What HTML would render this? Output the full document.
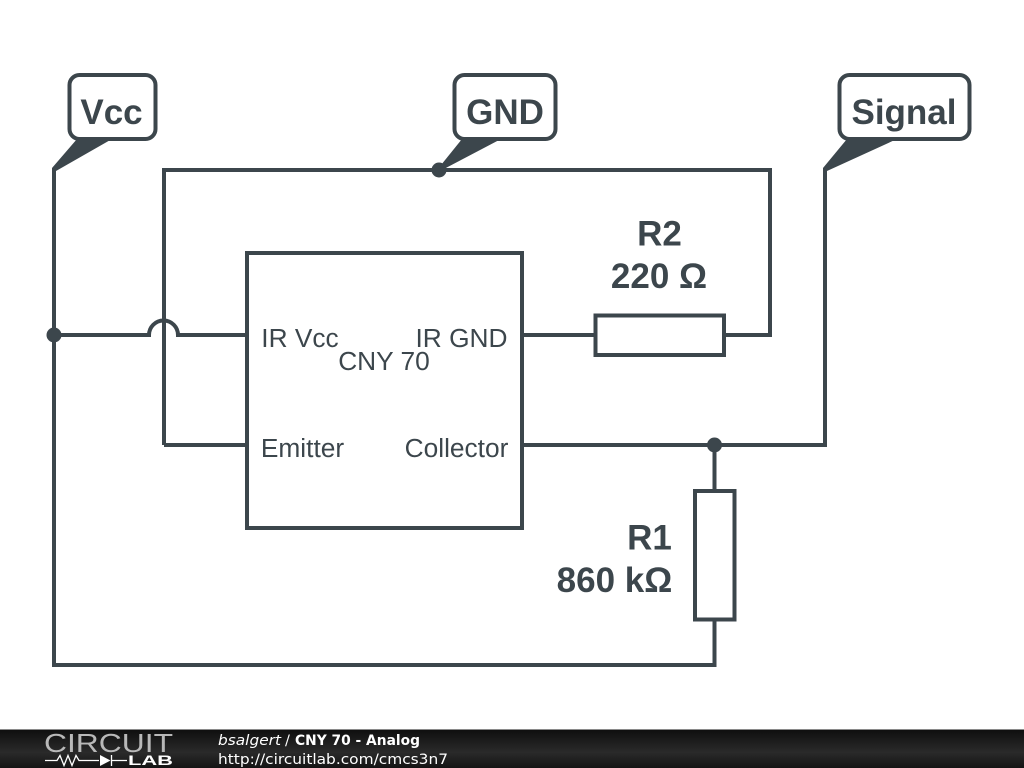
<!DOCTYPE html>
<html>
<head>
<meta charset="utf-8">
<style>
html,body{margin:0;padding:0;background:#fff;width:1024px;height:768px;overflow:hidden}
svg{display:block}
</style>
</head>
<body>
<svg width="1024" height="768" viewBox="0 0 1024 768" xmlns="http://www.w3.org/2000/svg">
<defs>
<linearGradient id="bar" x1="0" y1="0" x2="0" y2="1">
<stop offset="0" stop-color="#0e0e0e"/>
<stop offset="0.6" stop-color="#2a2a2a"/>
<stop offset="1" stop-color="#141414"/>
</linearGradient>
</defs>
<rect width="1024" height="768" fill="#fff"/>
<g fill="none" stroke="#3c464c" stroke-width="4" stroke-linejoin="miter">
<!-- Vcc wire -->
<path d="M54 168V665H714.500V620"/>
<path d="M54 335H149A14.500 14.500 0 0 1 178 335H247"/>
<!-- GND loop -->
<path d="M164 445V170H770V335H724"/>
<path d="M164 445H247"/>
<!-- IC -->
<rect x="247" y="253" width="275" height="275"/>
<!-- R2 -->
<path d="M522 335H595"/>
<rect x="595.500" y="315.500" width="128.500" height="39.500"/>
<!-- Collector -->
<path d="M522 445H825V168"/>
<path d="M714.500 445V490"/>
<!-- R1 -->
<rect x="695" y="491" width="39.500" height="128.500"/>
<!-- Label boxes -->
<rect x="69.500" y="75" width="86" height="64" rx="10"/>
<rect x="454.500" y="75" width="101" height="64" rx="10"/>
<rect x="839.500" y="75" width="130" height="64" rx="10"/>
</g>
<g fill="#3c464c">
<path d="M52 168V171H56L112 139H77Z"/>
<path d="M437 170L462 139H501L442 170Z"/>
<path d="M823 168V171H827L897 139H847Z"/>
<circle cx="54" cy="335" r="7.500"/>
<circle cx="439" cy="170" r="7.500"/>
<circle cx="714.500" cy="445" r="7.500"/>
</g>
<g font-family="'Liberation Sans',sans-serif" fill="#3c464c" text-anchor="middle">
<g font-weight="bold" font-size="35">
<text x="111.500" y="124">Vcc</text>
<text x="505" y="124">GND</text>
<text x="904" y="124">Signal</text>
<text x="659.500" y="245.500">R2</text>
<text x="659" y="288">220 Ω</text>
<text x="649.500" y="549.500">R1</text>
<text x="614.500" y="592">860 kΩ</text>
</g>
<g font-size="26.300">
<text x="300" y="347">IR Vcc</text>
<text x="461.500" y="347">IR GND</text>
<text x="384" y="370">CNY 70</text>
<text x="302.500" y="457">Emitter</text>
<text x="456.500" y="457">Collector</text>
</g>
</g>
<!-- footer -->
<rect x="0" y="729" width="1024" height="39" fill="url(#bar)"/>
<rect x="0" y="729" width="1024" height="1" fill="#8a8a8a"/>
<g fill="#fff" font-family="'DejaVu Sans',sans-serif" font-size="14.500">
<text x="218" y="745" font-style="italic" textLength="63" lengthAdjust="spacingAndGlyphs">bsalgert</text>
<text x="285" y="745">/</text>
<text x="295" y="745" font-weight="bold" textLength="125" lengthAdjust="spacingAndGlyphs">CNY 70 - Analog</text>
<text x="218" y="764" textLength="230" lengthAdjust="spacingAndGlyphs">http://circuitlab.com/cmcs3n7</text>
</g>
<text x="44" y="752" font-family="'Liberation Sans',sans-serif" font-size="26" fill="#b8b8b8" textLength="129" lengthAdjust="spacingAndGlyphs">CIRCUIT</text>
<g fill="none" stroke="#fff" stroke-width="1.300">
<path d="M45 760.500H57L60 755.500L64 765.500L68 755.500L72 765.500L76 755.500L79 760.500H99"/>
<path d="M111.500 755V766M111.500 760.500H127"/>
</g>
<path d="M100 755V766L110.500 760.500Z" fill="#fff"/>
<text x="128" y="765" font-family="'Liberation Sans',sans-serif" font-weight="bold" font-size="14" fill="#fff" textLength="45" lengthAdjust="spacingAndGlyphs">LAB</text>
</svg>
</body>
</html>
